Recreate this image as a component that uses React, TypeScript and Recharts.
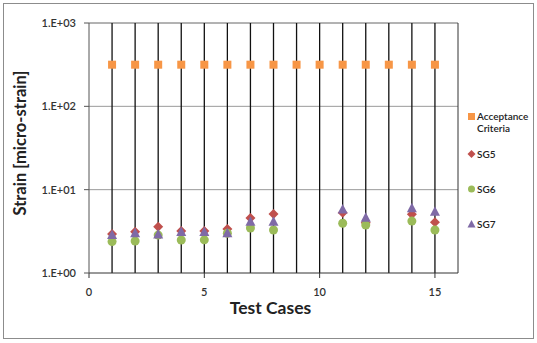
import {
  ComposedChart,
  Scatter,
  XAxis,
  YAxis,
  ReferenceLine,
} from "recharts";

const CASES = [1, 2, 3, 4, 5, 6, 7, 8, 9, 10, 11, 12, 13, 14, 15];
const ACCEPTANCE = [316, 316, 316, 316, 316, 316, 316, 316, 316, 316, 316, 316, 316, 316, 316];
const SG5 = [2.94, 3.13, 3.6, 3.2, 3.2, 3.37, 4.57, 5.1, null, null, 5.3, 4.0, null, 5.06, 4.06];
const SG6 = [2.38, 2.42, 2.85, 2.49, 2.5, 3.0, 3.47, 3.28, null, null, 3.95, 3.77, null, 4.2, 3.28];
const SG7 = [2.85, 3.0, 2.9, 3.1, 3.1, 3.0, 4.13, 4.13, null, null, 5.8, 4.6, null, 5.98, 5.44];
const X_TICKS = [0, 5, 10, 15];
const Y_TICKS = [1, 10, 100, 1000];
const Y_LABELS = ["1.E+00", "1.E+01", "1.E+02", "1.E+03"];

const FONT = "Lato, 'Open Sans', sans-serif";
const ORANGE = "#F79646";
const RED = "#C0504D";
const GREEN = "#9BBB59";
const PURPLE = "#7F6AA6";

const toPoints = (vals: (number | null)[]) =>
  CASES.map((x, i) => ({ x, y: vals[i] })).filter((p) => p.y != null);

// marker shapes, drawn at the scaled point
const square = (p: any) => (
  <rect x={p.cx - 4} y={p.cy - 4} width={8} height={8} fill={ORANGE} />
);
const diamond = (p: any) => (
  <path
    d={`M${p.cx},${p.cy - 5} L${p.cx + 5},${p.cy} L${p.cx},${p.cy + 5} L${p.cx - 5},${p.cy} Z`}
    fill={RED}
  />
);
const circle = (p: any) => <circle cx={p.cx} cy={p.cy} r={4.5} fill={GREEN} />;
const triangle = (p: any) => (
  <path
    d={`M${p.cx},${p.cy - 5.5} L${p.cx + 5},${p.cy + 4} L${p.cx - 5},${p.cy + 4} Z`}
    fill={PURPLE}
  />
);

function LegendBox() {
  const item = { display: "flex", alignItems: "flex-start", position: "absolute" as const, left: 0 };
  const text = { fontSize: 10, color: "#222", lineHeight: "12px", fontFamily: FONT, fontWeight: 600 };
  return (
    <div style={{ position: "absolute", left: 467, top: 110, width: 70, height: 130 }}>
      <div style={{ ...item, top: 0 }}>
        <svg width={10} height={12} style={{ marginTop: 1 }}>
          <rect x={1} y={2} width={7} height={7} fill={ORANGE} />
        </svg>
        <div style={text}>
          Acceptance
          <br />
          Criteria
        </div>
      </div>
      <div style={{ ...item, top: 38 }}>
        <svg width={10} height={12}>
          <path d="M4.5,2 L8.5,6 L4.5,10 L0.5,6 Z" fill={RED} />
        </svg>
        <div style={text}>SG5</div>
      </div>
      <div style={{ ...item, top: 73 }}>
        <svg width={10} height={12}>
          <circle cx={4.5} cy={6} r={3.5} fill={GREEN} />
        </svg>
        <div style={text}>SG6</div>
      </div>
      <div style={{ ...item, top: 108 }}>
        <svg width={10} height={12}>
          <path d="M4.5,2 L8.5,9.5 L0.5,9.5 Z" fill={PURPLE} />
        </svg>
        <div style={text}>SG7</div>
      </div>
    </div>
  );
}

export default function App() {
  return (
    <div style={{ position: "absolute", left: 0, top: 0, width: 537, height: 343, background: "#fff" }}>
      <div
        style={{
          position: "absolute",
          left: 3,
          top: 3,
          width: 529,
          height: 334,
          border: "1px solid #8c8c8c",
        }}
      />
      <ComposedChart
        width={537}
        height={343}
        margin={{ top: 23, right: 79, bottom: 30, left: 0 }}
        style={{ position: "absolute", left: 0, top: 0, fontFamily: FONT }}
      >
        <XAxis
          type="number"
          dataKey="x"
          domain={[0, 16]}
          ticks={X_TICKS}
          allowDataOverflow
          height={40}
          tickSize={5}
          tickMargin={10}
          stroke="#333"
          tick={{ fontSize: 11, fill: "#333", fontFamily: FONT, fontWeight: 600 }}
          label={{
            value: "Test Cases",
            position: "insideBottom",
            offset: -1,
            dx: -3,
            style: { fontSize: 17.5, fontWeight: "bold", fill: "#222", fontFamily: FONT },
          }}
        />
        <YAxis
          type="number"
          dataKey="y"
          scale="log"
          domain={[1, 1000]}
          ticks={Y_TICKS}
          allowDataOverflow
          width={89}
          tickSize={5}
          tickMargin={8}
          stroke="#555"
          tickFormatter={(v: number) => Y_LABELS[Y_TICKS.indexOf(v)] ?? String(v)}
          tick={{ fontSize: 11, fill: "#333", fontFamily: FONT, fontWeight: 600 }}
          label={{
            value: "Strain [micro-strain]",
            angle: -90,
            position: "insideLeft",
            dx: 15,
            dy: -5,
            style: { fontSize: 16.5, fontWeight: "bold", fill: "#222", fontFamily: FONT, textAnchor: "middle" },
          }}
        />
        <ReferenceLine y={10} stroke="#9a9a9a" />
        <ReferenceLine y={100} stroke="#9a9a9a" />
        <ReferenceLine y={1000} stroke="#666" />
        <ReferenceLine x={16} stroke="#333" />
        {CASES.map((c) => (
          <ReferenceLine key={c} x={c} stroke="#111" strokeWidth={1.3} />
        ))}
        <Scatter name="Acceptance Criteria" data={toPoints(ACCEPTANCE)} shape={square} isAnimationActive={false} />
        <Scatter name="SG5" data={toPoints(SG5)} shape={diamond} isAnimationActive={false} />
        <Scatter name="SG6" data={toPoints(SG6)} shape={circle} isAnimationActive={false} />
        <Scatter name="SG7" data={toPoints(SG7)} shape={triangle} isAnimationActive={false} />
      </ComposedChart>
      <LegendBox />
    </div>
  );
}
